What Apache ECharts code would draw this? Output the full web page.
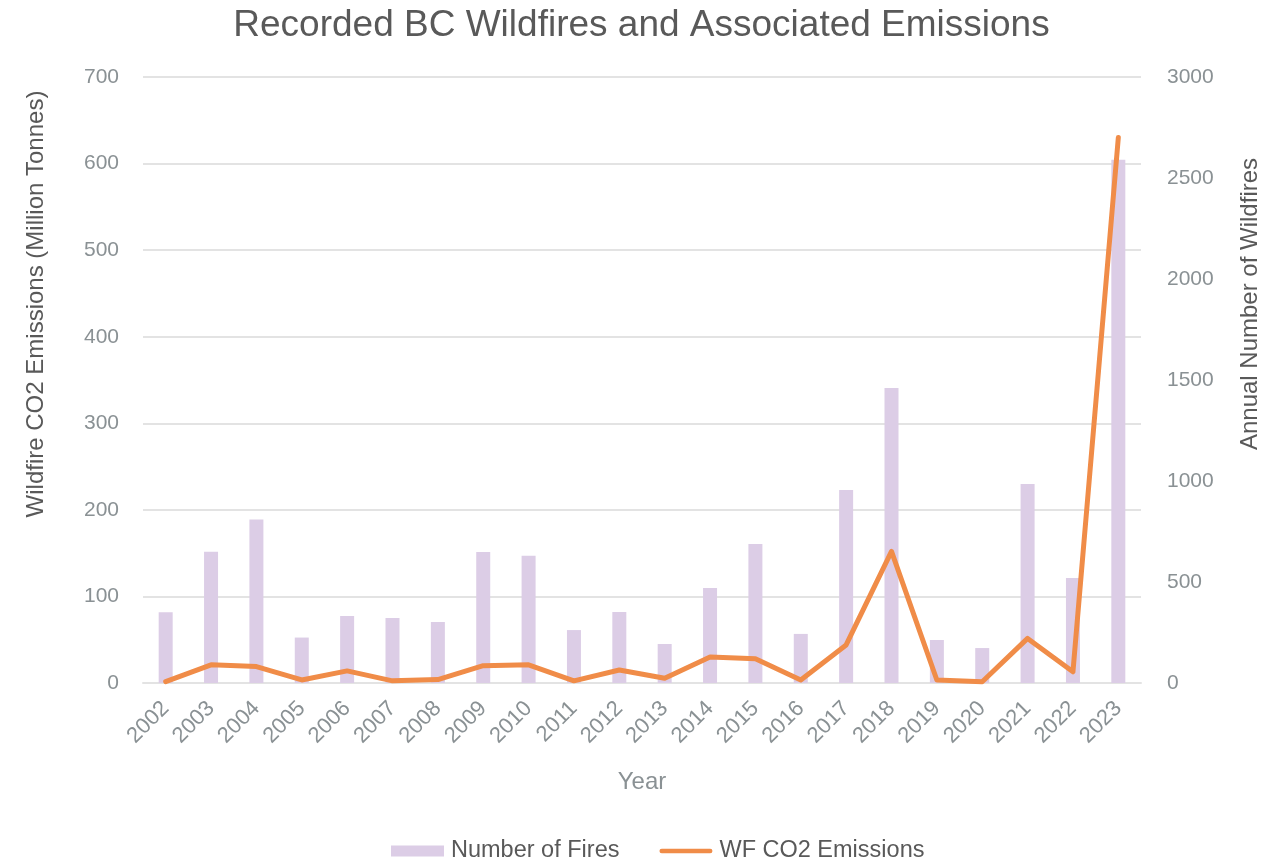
<!DOCTYPE html>
<html>
<head>
<meta charset="utf-8">
<script src="https://cdn.jsdelivr.net/npm/echarts@6/dist/echarts.min.js"></script>
<style>
html,body{margin:0;padding:0;background:#fff;}
#chart{width:1283px;height:863px;}
</style>
</head>
<body>
<div id="chart"></div>
<script>
const years = ['2002','2003','2004','2005','2006','2007','2008','2009','2010','2011','2012','2013','2014','2015','2016','2017','2018','2019','2020','2021','2022','2023'];
const numberOfFires = [350, 650, 810, 225, 332, 322, 302, 648, 630, 262, 351, 193, 470, 688, 243, 955, 1460, 213, 173, 985, 520, 2590];
const co2Emissions = [1.5, 21, 19, 3.5, 14, 2.5, 4, 20, 21, 2.5, 15, 5.4, 30, 28, 3.5, 44, 152, 3.5, 1.5, 51.5, 13, 630];
const leftTicks = {min: 0, max: 700, interval: 100};
const rightTicks = {min: 0, max: 3000, interval: 500};

const chart = echarts.init(document.getElementById('chart'), null, {renderer: 'canvas'});
const grey = '#8a9194';
const dark = '#595959';
const font = '"Liberation Sans", Arial, sans-serif';
chart.setOption({
  animation: false,
  backgroundColor: '#fff',
  title: {
    text: 'Recorded BC Wildfires and Associated Emissions',
    left: 'center',
    top: 2,
    textStyle: {fontFamily: font, fontSize: 37, fontWeight: 'normal', color: dark}
  },
  grid: {left: 143, right: 142, top: 77, bottom: 180, containLabel: false},
  legend: {
    bottom: -5,
    left: 386,
    itemGap: 40,
    itemWidth: 53,
    itemHeight: 11,
    textStyle: {fontFamily: font, fontSize: 23.5, color: dark, padding: [0, 0, 0, 2]},
    data: [
      {name: 'Number of Fires', icon: 'rect'},
      {name: 'WF CO2 Emissions', icon: 'path://M0,0 M0,11 M2.5,3 L55.5,3 A2.5,2.5 0 0 1 55.5,8 L2.5,8 A2.5,2.5 0 0 1 2.5,3 Z'}
    ]
  },
  xAxis: {
    type: 'category',
    data: years,
    name: 'Year',
    nameLocation: 'middle',
    nameGap: 87,
    nameTextStyle: {fontFamily: font, fontSize: 24, color: grey},
    axisLine: {show: true, lineStyle: {color: '#e3e3e3', width: 2}},
    axisTick: {show: false},
    axisLabel: {rotate: 45, fontFamily: font, fontSize: 22, color: grey, margin: 22, interval: 0}
  },
  yAxis: [
    {
      type: 'value',
      min: leftTicks.min, max: leftTicks.max, interval: leftTicks.interval,
      name: 'Wildfire CO2 Emissions (Million Tonnes)',
      nameLocation: 'middle',
      nameRotate: 90,
      nameGap: 95,
      nameTextStyle: {fontFamily: font, fontSize: 24, color: dark, padding: [0, 0, 0, 152]},
      axisLine: {show: false},
      axisTick: {show: false},
      axisLabel: {fontFamily: font, fontSize: 21, color: grey, margin: 24},
      splitLine: {lineStyle: {color: '#e3e3e3', width: 2}}
    },
    {
      type: 'value',
      min: rightTicks.min, max: rightTicks.max, interval: rightTicks.interval,
      name: 'Annual Number of Wildfires',
      nameLocation: 'middle',
      nameRotate: 90,
      nameGap: 97,
      nameTextStyle: {fontFamily: font, fontSize: 24, color: dark, padding: [0, 0, 0, 152]},
      axisLine: {show: false},
      axisTick: {show: false},
      axisLabel: {fontFamily: font, fontSize: 21, color: grey, margin: 26, formatter: function (v) { return String(v); }},
      splitLine: {show: false}
    }
  ],
  series: [
    {
      name: 'Number of Fires',
      type: 'bar',
      yAxisIndex: 1,
      data: numberOfFires,
      barWidth: 14,
      itemStyle: {color: '#dccde6'},
      z: 2
    },
    {
      name: 'WF CO2 Emissions',
      type: 'line',
      yAxisIndex: 0,
      data: co2Emissions,
      symbol: 'none',
      lineStyle: {color: '#f08c48', width: 5, cap: 'round', join: 'round'},
      itemStyle: {color: '#f08c48'},
      z: 3
    }
  ]
});
</script>
</body>
</html>
